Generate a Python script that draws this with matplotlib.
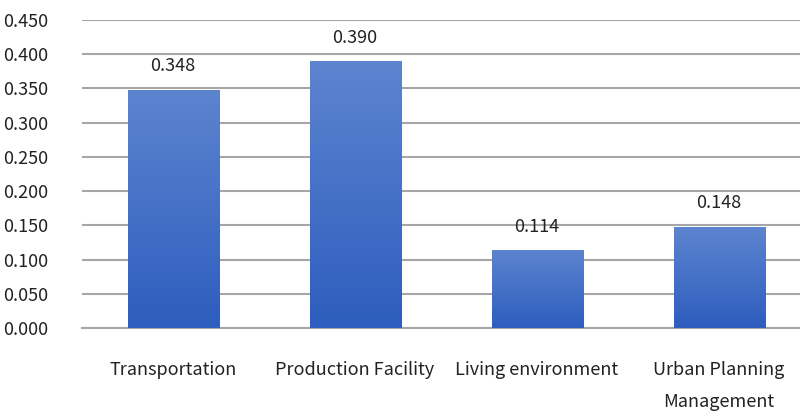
import matplotlib
matplotlib.use("Agg")
import matplotlib.pyplot as plt
import numpy as np
from matplotlib.colors import LinearSegmentedColormap

categories = ["Transportation", "Production Facility", "Living environment", "Urban Planning\nManagement"]
values = [0.348, 0.390, 0.114, 0.148]
yticks = [0.0, 0.05, 0.10, 0.15, 0.20, 0.25, 0.30, 0.35, 0.40, 0.45]

plt.rcParams['font.family'] = ['Noto Sans CJK KR', 'DejaVu Sans']

fig = plt.figure(figsize=(8, 4.13), dpi=100)
ax = fig.add_axes([82/800, 1 - 328/413, 1 - 82/800, (328 - 20)/413])

x = np.arange(len(categories))
bars = ax.bar(x, values, width=0.5, color="none", zorder=3)

# vertical gradient, lighter on top
cmap = LinearSegmentedColormap.from_list("bluegrad", ["#2d5dbe", "#5d84cf"])
grad = np.linspace(0, 1, 256).reshape(-1, 1)
for b in bars:
    x0, y0 = b.get_x(), b.get_y()
    w, h = b.get_width(), b.get_height()
    im = ax.imshow(grad, cmap=cmap, origin="lower", aspect="auto",
                   extent=[x0, x0 + w, y0, y0 + h], zorder=3)
    im.set_clip_path(b)
    ax.text(x0 + w / 2, h + 0.021, f"{h:.3f}", ha="center", va="bottom",
            fontsize=13, color="#222222", zorder=4)

ax.set_xlim(-0.5, 3.445)
ax.set_ylim(0, 0.45)
ax.set_yticks(yticks)
ax.set_yticklabels([f"{v:.3f}" for v in yticks])
ax.set_xticks(x)
ax.set_xticklabels(categories, linespacing=1.95)

ax.yaxis.grid(True, color="#a6a6a6", linewidth=1.5, zorder=0)
ax.set_axisbelow(True)
for s in ["top", "right", "left"]:
    ax.spines[s].set_visible(False)
ax.spines["bottom"].set_color("#a6a6a6")
ax.spines["bottom"].set_linewidth(1.5)

ax.tick_params(axis="y", length=0, pad=24, labelsize=13, labelcolor="#222222")
ax.tick_params(axis="x", length=0, pad=24, labelsize=13, labelcolor="#222222")
for lbl in ax.get_xticklabels():
    lbl.set_verticalalignment("top")

fig.savefig("out.png", dpi=100)
